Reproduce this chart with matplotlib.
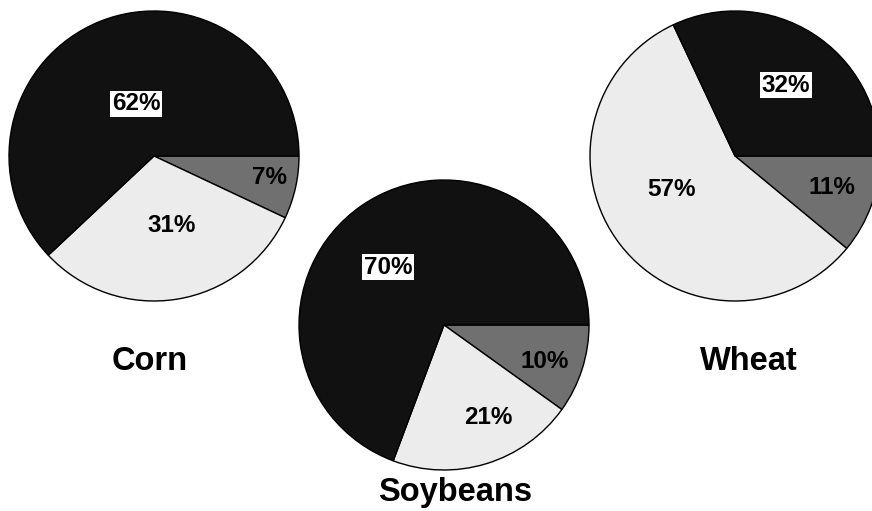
import matplotlib
matplotlib.use("Agg")
import matplotlib.pyplot as plt

# crop share by category, clockwise from 3 o'clock
corn = [7, 31, 62]
soybeans = [10, 21, 70]
wheat = [11, 57, 32]
crop_names = ["Corn", "Soybeans", "Wheat"]

colors = ["#707070", "#ececec", "#111111"]

W, H = 872, 511
plt.rcParams['font.family'] = ['Liberation Sans', 'DejaVu Sans']

fig = plt.figure(figsize=(W / 100, H / 100), dpi=100)
ax = fig.add_axes([0, 0, 1, 1])

# layout (pixel coords, y down): pie center, title pos, pct label positions
layout = {
    "Corn": dict(center=(154, 156), title=(150, 361),
                 pct=[(269, 178), (172, 225), (136, 104)]),
    "Soybeans": dict(center=(444, 325), title=(455, 493),
                     pct=[(545, 362), (488, 417), (388, 267)]),
    "Wheat": dict(center=(735, 156), title=(749, 361),
                  pct=[(832, 188), (672, 189), (786, 85)]),
}
R = 145

for name, vals in zip(crop_names, [corn, soybeans, wheat]):
    lay = layout[name]
    # y axis is inverted, so counterclock=True reads clockwise on screen
    wedges, _ = ax.pie(vals, colors=colors, startangle=0, counterclock=True,
                       center=lay["center"], radius=R, frame=True,
                       wedgeprops=dict(edgecolor="black", linewidth=1.0))
    for i, (v, pos) in enumerate(zip(vals, lay["pct"])):
        kw = {}
        if i == 2:
            kw["bbox"] = dict(facecolor="white", edgecolor="none", pad=1.0)
        ax.text(pos[0], pos[1], f"{v}%", ha="center", va="center",
                fontsize=17.5, fontweight="bold", color="black", **kw)
    ax.text(lay["title"][0], lay["title"][1], name, ha="center", va="center",
            fontsize=23.5, fontweight="bold", color="black")

ax.set_xlim(0, W)
ax.set_ylim(H, 0)
ax.set_aspect('equal')
ax.axis('off')

fig.savefig("out.png", dpi=100)
